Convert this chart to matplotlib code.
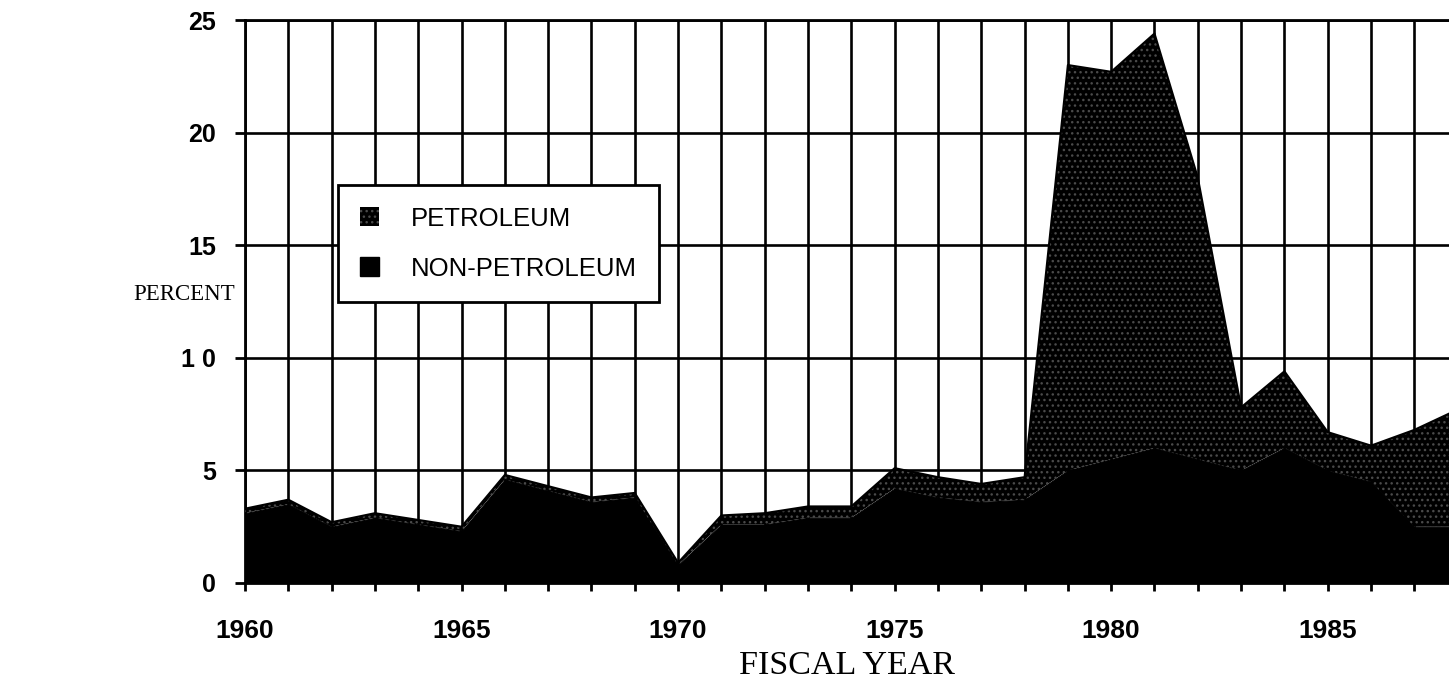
import matplotlib
matplotlib.use("Agg")
import matplotlib.pyplot as plt
from matplotlib.patches import Patch

# ---- data ----
years = list(range(1960, 1989))
non_petroleum = [3.1, 3.5, 2.5, 2.9, 2.6, 2.3, 4.6, 4.1, 3.6, 3.8,
                 0.8, 2.6, 2.6, 2.9, 2.9, 4.2, 3.8, 3.6, 3.7, 5.0,
                 5.5, 6.0, 5.5, 5.0, 6.0, 5.0, 4.5, 2.5, 2.5]
petroleum = [0.2, 0.2, 0.2, 0.2, 0.2, 0.2, 0.2, 0.2, 0.2, 0.2,
             0.1, 0.4, 0.5, 0.5, 0.5, 0.9, 0.9, 0.8, 1.0, 18.0,
             17.2, 18.4, 12.5, 2.8, 3.4, 1.7, 1.6, 4.3, 5.2]
x_label_years = [1960, 1965, 1970, 1975, 1980, 1985]
y_ticks = [0, 5, 10, 15, 20, 25]
y_tick_labels = ["0", "5", "1 0", "15", "20", "25"]
legend_labels = ["PETROLEUM", "NON-PETROLEUM"]

total = [a + b for a, b in zip(non_petroleum, petroleum)]

plt.rcParams['hatch.linewidth'] = 1.0
PET_DOTS = '#4a4a4a'

fig = plt.figure(figsize=(14.49, 6.90), dpi=100)
W, H = 1449, 690
left_px, right_px, top_px, bottom_px = 245, 1449, 20, 583
ax = fig.add_axes([left_px / W, 1 - bottom_px / H,
                   (right_px - left_px) / W, (bottom_px - top_px) / H])

ax.fill_between(years, 0, non_petroleum, facecolor='black',
                edgecolor='black', linewidth=0.8, zorder=3)
ax.fill_between(years, non_petroleum, total, facecolor='black',
                edgecolor=PET_DOTS, hatch='...', linewidth=0, zorder=3)
ax.plot(years, total, color='black', linewidth=1.5, zorder=4)

ax.set_xlim(1960, 1987.8)
ax.set_ylim(0, 25)

ax.set_xticks(years[:-1])
ax.set_xticklabels([str(y) if y in x_label_years else "" for y in years[:-1]],
                   fontfamily='Liberation Sans', fontweight='bold', fontsize=19)
ax.set_yticks(y_ticks)
ax.set_yticklabels(y_tick_labels, fontfamily='Liberation Sans',
                   fontweight='bold', fontsize=18)

ax.tick_params(axis='x', direction='out', length=6, width=2, pad=20)
ax.tick_params(axis='y', direction='out', length=7, width=2, pad=14)

ax.grid(True, color='black', linewidth=1.9, zorder=1)
ax.set_axisbelow(True)

for s in ['left', 'top', 'bottom']:
    ax.spines[s].set_linewidth(2)
    ax.spines[s].set_color('black')
ax.spines['right'].set_visible(False)
ax.spines['bottom'].set_zorder(5)

ax.set_xlabel("FISCAL YEAR", fontfamily='Liberation Serif', fontsize=24.5,
              labelpad=5)
fig.text(133 / W, 1 - 294 / H, "PERCENT", fontfamily='Liberation Serif',
         fontsize=16.5, ha='left', va='center')

handles = [Patch(facecolor='black', edgecolor=PET_DOTS, hatch='...', linewidth=0),
           Patch(facecolor='black', edgecolor='black')]
leg = ax.legend(handles, legend_labels, loc='upper left',
                bbox_to_anchor=((338 - left_px) / (right_px - left_px),
                                (bottom_px - 185) / (bottom_px - top_px)),
                borderaxespad=0, fancybox=False, framealpha=1,
                edgecolor='black', handlelength=0.75, handleheight=0.75,
                handletextpad=1.25, labelspacing=1.0, borderpad=0.85,
                prop={'family': 'Liberation Sans', 'size': 18.5})
leg.get_frame().set_linewidth(2)
leg.set_zorder(10)

fig.savefig("out.png", dpi=100)
